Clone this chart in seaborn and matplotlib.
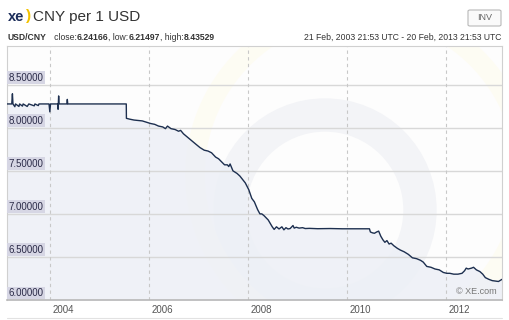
import matplotlib
matplotlib.use("Agg")
import matplotlib.pyplot as plt
import matplotlib.dates as mdates
import matplotlib.transforms as mtransforms
from matplotlib.patches import FancyBboxPatch, Ellipse
import seaborn as sns
import pandas as pd

# ---------------- data ----------------
dates = [
    "2003-02-21", "2003-03-28", "2003-04-02", "2003-04-06", "2003-04-20", "2003-04-25",
    "2003-05-20", "2003-05-25", "2003-06-15", "2003-06-20", "2003-07-20", "2003-08-01",
    "2003-09-10", "2003-09-15", "2003-10-10", "2003-10-15", "2003-12-28", "2004-01-03",
    "2004-01-08", "2004-03-01", "2004-03-04", "2004-03-08", "2004-03-11", "2004-05-08",
    "2004-05-11", "2004-05-14", "2004-09-01", "2005-03-01", "2005-07-20",
    "2005-07-21", "2005-08-15", "2005-09-15", "2005-10-15", "2005-11-15", "2005-12-15",
    "2006-01-15", "2006-02-15", "2006-03-15", "2006-04-15", "2006-05-05", "2006-05-20",
    "2006-06-15", "2006-07-15", "2006-08-10", "2006-08-25", "2006-09-15", "2006-10-15",
    "2006-11-15", "2006-12-15", "2007-01-15", "2007-02-15", "2007-03-15", "2007-04-10",
    "2007-05-10", "2007-06-01", "2007-06-20", "2007-07-15", "2007-08-05", "2007-08-15",
    "2007-08-25", "2007-09-15", "2007-10-15", "2007-11-05", "2007-11-20", "2007-12-15",
    "2008-01-10", "2008-02-01", "2008-02-20", "2008-03-15", "2008-04-01", "2008-04-15",
    "2008-05-01", "2008-06-01", "2008-07-01", "2008-07-15", "2008-08-01", "2008-08-20",
    "2008-09-10", "2008-09-25", "2008-10-10", "2008-10-25", "2008-11-10", "2008-12-01",
    "2008-12-10", "2008-12-25", "2009-01-15", "2009-02-10", "2009-03-01", "2009-04-01",
    "2009-06-01", "2009-09-01", "2009-12-01", "2010-03-01", "2010-06-18",
    "2010-06-25", "2010-07-10", "2010-07-25", "2010-08-10", "2010-08-25", "2010-09-10",
    "2010-09-25", "2010-10-10", "2010-10-25", "2010-11-10", "2010-11-25", "2010-12-15",
    "2011-01-10", "2011-02-01", "2011-03-01", "2011-04-01", "2011-05-01", "2011-06-01",
    "2011-07-01", "2011-07-20", "2011-08-15", "2011-09-15", "2011-10-15", "2011-11-15",
    "2011-12-15", "2012-01-10", "2012-02-01", "2012-03-01", "2012-04-01", "2012-05-01",
    "2012-05-20", "2012-06-01", "2012-06-15", "2012-07-10", "2012-07-25", "2012-08-15",
    "2012-09-10", "2012-10-01", "2012-10-20", "2012-11-15", "2012-12-10", "2013-01-05",
    "2013-01-25", "2013-02-10", "2013-02-20",
]
rates = [
    8.277, 8.277, 8.395, 8.277, 8.245, 8.277,
    8.248, 8.277, 8.252, 8.277, 8.248, 8.277,
    8.255, 8.277, 8.258, 8.277, 8.277, 8.185,
    8.277, 8.277, 8.215, 8.370, 8.277, 8.277,
    8.330, 8.277, 8.277, 8.277, 8.277,
    8.110, 8.100, 8.090, 8.085, 8.080, 8.065,
    8.050, 8.040, 8.020, 8.010, 7.990, 8.020,
    7.990, 7.980, 7.960, 7.970, 7.930, 7.890,
    7.850, 7.810, 7.770, 7.740, 7.730, 7.710,
    7.660, 7.640, 7.610, 7.570, 7.570, 7.550,
    7.580, 7.500, 7.470, 7.440, 7.410, 7.360,
    7.280, 7.180, 7.140, 7.050, 7.000, 7.000,
    6.980, 6.930, 6.850, 6.820, 6.850, 6.825,
    6.850, 6.815, 6.840, 6.825, 6.830, 6.865,
    6.835, 6.845, 6.835, 6.840, 6.830, 6.832,
    6.828, 6.830, 6.827, 6.827, 6.827,
    6.790, 6.780, 6.775, 6.790, 6.800, 6.740,
    6.700, 6.670, 6.690, 6.650, 6.660, 6.630,
    6.600, 6.580, 6.560, 6.530, 6.490, 6.480,
    6.460, 6.440, 6.390, 6.380, 6.360, 6.350,
    6.320, 6.310, 6.310, 6.300, 6.300, 6.310,
    6.340, 6.370, 6.360, 6.370, 6.380, 6.350,
    6.330, 6.300, 6.260, 6.240, 6.225, 6.220,
    6.215, 6.230, 6.240,
]
ytick_values = [6.0, 6.5, 7.0, 7.5, 8.0, 8.5]
ytick_labels = ["6.00000", "6.50000", "7.00000", "7.50000", "8.00000", "8.50000"]
xtick_years = [2004, 2006, 2008, 2010, 2012]
xtick_labels = ["2004", "2006", "2008", "2010", "2012"]

df = pd.DataFrame({"date": pd.to_datetime(dates), "rate": rates})

# ---------------- figure ----------------
sns.set_theme(style="white")
plt.rcParams["font.family"] = ["Liberation Sans", "DejaVu Sans"]

W, H = 509, 320
fig = plt.figure(figsize=(W / 100, H / 100), dpi=100)
fig.patch.set_facecolor("white")

L, R, T, B = 7, 502, 46, 300
AW, AH = R - L, B - T
ax = fig.add_axes([L / W, 1 - B / H, AW / W, AH / H])
ax.set_facecolor("#fdfdfd")

ax.set_xlim(pd.Timestamp("2003-02-21"), pd.Timestamp("2013-02-20"))
ax.set_ylim(6.0, 8.95)


def px_ellipse(cx, cy, r, lw, color):
    # circle given in figure pixels, drawn in axes coordinates
    return Ellipse(((cx - L) / AW, (B - cy) / AH), 2 * r / AW, 2 * r / AH,
                   transform=ax.transAxes, fill=False, lw=lw, ec=color, zorder=0)


# very faint watermark
ax.add_patch(px_ellipse(325, 210, 95, 24, "#f3f4f7"))
ax.add_patch(px_ellipse(360, 175, 165, 14, "#fdfcf3"))

# area under the line
ax.fill_between(df["date"], df["rate"], 6.0, color="#edf0f6", alpha=0.85, zorder=1, lw=0)

# grid
for v in ytick_values[1:]:
    ax.axhline(v, color="#d8d8d8", lw=1, zorder=2)
for yr in xtick_years:
    ax.axvline(pd.Timestamp(f"{yr}-01-01"), color="#c8c8c8", lw=0.8,
               ls=(0, (3, 3)), zorder=2)

sns.lineplot(data=df, x="date", y="rate", ax=ax, color="#1d2f4f", lw=1.0, zorder=4)

ax.set_xlabel("")
ax.set_ylabel("")
ax.set_xticks([])
ax.set_yticks([])
for s in ["left", "right", "top"]:
    ax.spines[s].set_color("#d0d0d0")
    ax.spines[s].set_linewidth(0.8)
ax.spines["bottom"].set_color("#b8b8b8")
ax.spines["bottom"].set_linewidth(1.2)

# y labels inside the plot, above grid lines
ylab_tr = mtransforms.blended_transform_factory(ax.transAxes, ax.transData)
for v, lab in zip(ytick_values, ytick_labels):
    ax.text(0.003, v, lab,
            transform=ylab_tr + mtransforms.ScaledTranslation(0, 2 / 100, fig.dpi_scale_trans),
            ha="left", va="bottom", fontsize=7, color="#2b2b48", zorder=6,
            bbox=dict(boxstyle="square,pad=0.15", fc="#d6d6e4", ec="none"))

# x labels below the axis
xlab_tr = mtransforms.blended_transform_factory(ax.transData, fig.transFigure)
for yr, lab in zip(xtick_years, xtick_labels):
    ax.text(mdates.date2num(pd.Timestamp(f"{yr}-01-01")), 1 - 310 / H, lab,
            transform=xlab_tr + mtransforms.ScaledTranslation(3 / 100, 0, fig.dpi_scale_trans),
            ha="left", va="center", fontsize=7, color="#555555")

ax.text(0.99, 0.015, "© XE.com", transform=ax.transAxes, ha="right", va="bottom",
        fontsize=6.5, color="#777777", zorder=6)

fig.add_artist(plt.Line2D([L / W, R / W], [1 - 318 / H] * 2, color="#e2e2e2", lw=0.8))

# ---------------- header ----------------
fig.text(8 / W, 1 - 17 / H, "xe", fontsize=10.5, fontweight="bold", color="#1c2d5a",
         ha="left", va="center")
fig.text(26 / W, 1 - 16 / H, ")", fontsize=11, fontweight="bold", color="#f2c200",
         ha="left", va="center")
fig.text(33 / W, 1 - 17 / H, "CNY per 1 USD", fontsize=11, color="#333333",
         ha="left", va="center")

sub_y = 1 - 37 / H
t = fig.text(8 / W, sub_y, "USD/CNY", fontsize=6.2, fontweight="bold", color="#333333",
             ha="left", va="center")
parts = [("   close:", "normal"), ("6.24166", "bold"), (", low:", "normal"),
         ("6.21497", "bold"), (", high:", "normal"), ("8.43529", "bold")]
fig.canvas.draw()
renderer = fig.canvas.get_renderer()
xpos = t.get_window_extent(renderer).x1
for s, w in parts:
    tt = fig.text(xpos / W, sub_y, s, fontsize=6.2, fontweight=w, color="#333333",
                  ha="left", va="center")
    xpos = tt.get_window_extent(renderer).x1

fig.text(501 / W, sub_y, "21 Feb, 2003 21:53 UTC - 20 Feb, 2013 21:53 UTC", fontsize=6.2,
         color="#333333", ha="right", va="center")

# INV button
fig.add_artist(FancyBboxPatch((468 / W, 1 - 26 / H), 33 / W, 16 / H,
                              boxstyle="round,pad=0,rounding_size=0.004",
                              transform=fig.transFigure, fc="#fafafa", ec="#b8b8b8", lw=0.8))
fig.text(484.5 / W, 1 - 18 / H, "INV", fontsize=6.5, color="#666666", ha="center", va="center")

fig.savefig("out.png", dpi=100, facecolor="white")
